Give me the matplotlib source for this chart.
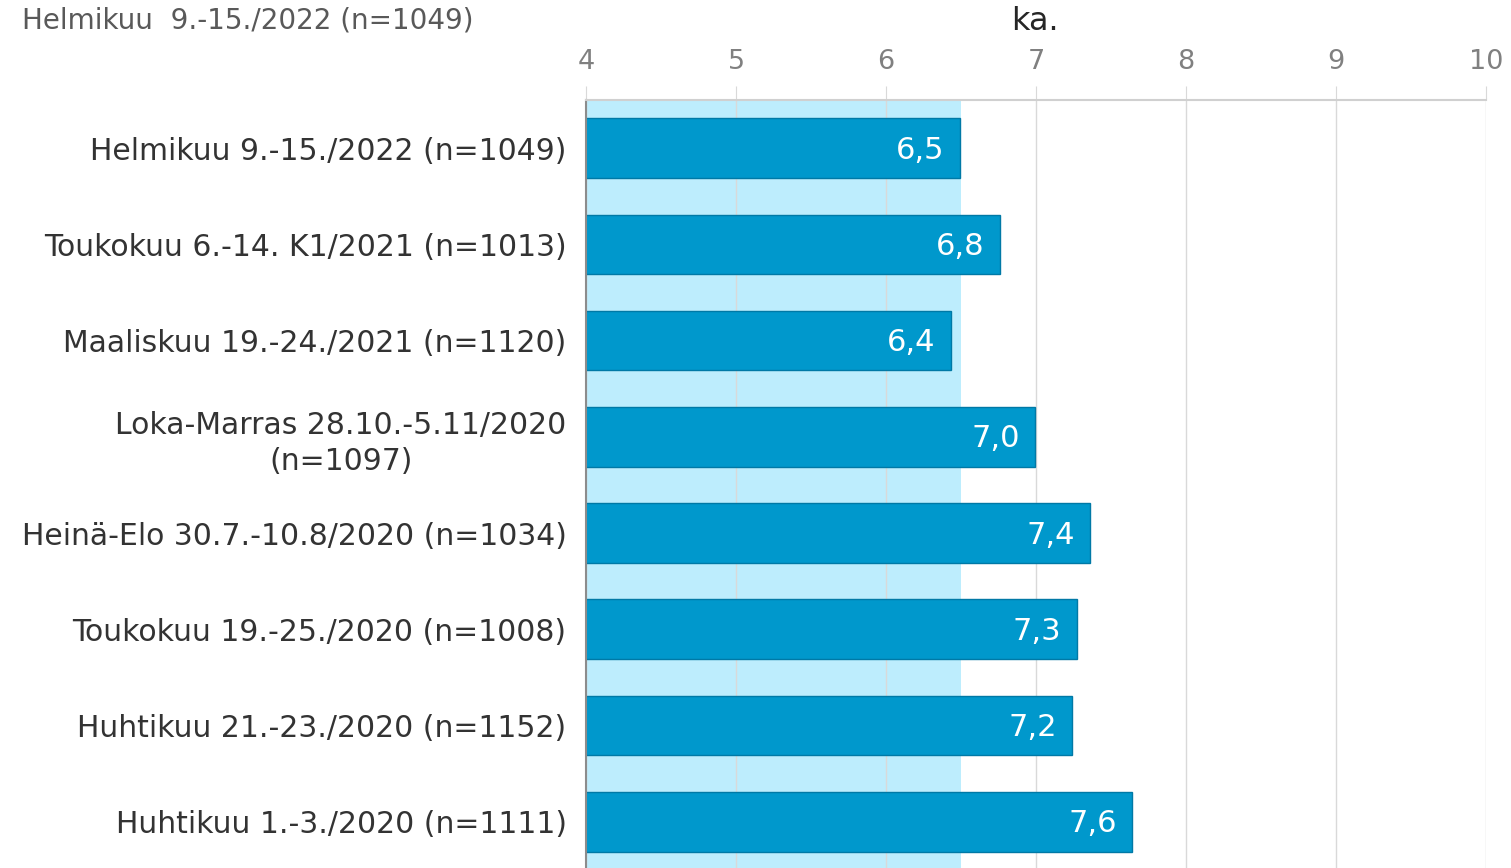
import numpy as np
import matplotlib.pyplot as plt

# aineisto (keskiarvot, ka.)
labels = [
    "Helmikuu 9.-15./2022 (n=1049)",
    "Toukokuu 6.-14. K1/2021 (n=1013)",
    "Maaliskuu 19.-24./2021 (n=1120)",
    "Loka-Marras 28.10.-5.11/2020\n(n=1097)",
    "Heinä-Elo 30.7.-10.8/2020 (n=1034)",
    "Toukokuu 19.-25./2020 (n=1008)",
    "Huhtikuu 21.-23./2020 (n=1152)",
    "Huhtikuu 1.-3./2020 (n=1111)",
]
values = [6.49, 6.76, 6.43, 6.99, 7.36, 7.27, 7.24, 7.64]
value_labels = ["6,5", "6,8", "6,4", "7,0", "7,4", "7,3", "7,2", "7,6"]
band_end = 6.5
xticks = [4, 5, 6, 7, 8, 9, 10]

bar_color = "#0098CC"
band_color = "#BDEDFD"

fig = plt.figure(figsize=(15.11, 8.68), dpi=100)
ax = fig.add_axes([586 / 1511, 0, 900 / 1511, 768 / 868])

y = np.arange(len(labels))
ax.axvspan(4, band_end, color=band_color, zorder=0, lw=0)
ax.barh(y, values, left=0, height=0.62, color=bar_color, edgecolor="#0079A6", linewidth=1, zorder=2)

for yi, v, t in zip(y, values, value_labels):
    ax.text(v - 0.1, yi + 0.02, t, ha="right", va="center", color="white", fontsize=22, zorder=3)

ax.set_xlim(4, 10)
ax.set_ylim(7.48, -0.5)
ax.set_yticks(y)
ax.set_yticklabels(labels, fontsize=21.5, color="#333333", multialignment="center",
                   linespacing=1.3)
ax.tick_params(axis="y", length=0, pad=14)

ax.xaxis.tick_top()
ax.set_xticks(xticks)
ax.set_xticklabels([str(t) for t in xticks], fontsize=19.5, color="#808080")
ax.tick_params(axis="x", length=10, color="#D9D9D9", pad=8)
ax.grid(axis="x", color="#D9D9D9", linewidth=1, zorder=1)
ax.set_axisbelow(True)

for s in ["right", "bottom"]:
    ax.spines[s].set_visible(False)
ax.spines["top"].set_color("#D0D0D0")
ax.spines["top"].set_linewidth(1.5)
ax.spines["left"].set_color("#8C8C8C")
ax.spines["left"].set_linewidth(1.5)

fig.text(22 / 1511, 1 - 20 / 868, "Helmikuu  9.-15./2022 (n=1049)", fontsize=20,
         color="#595959", va="center", ha="left")
fig.text(1035 / 1511, 1 - 22 / 868, "ka.", fontsize=23, color="#262626", va="center", ha="center")

fig.savefig("out.png", dpi=100)
